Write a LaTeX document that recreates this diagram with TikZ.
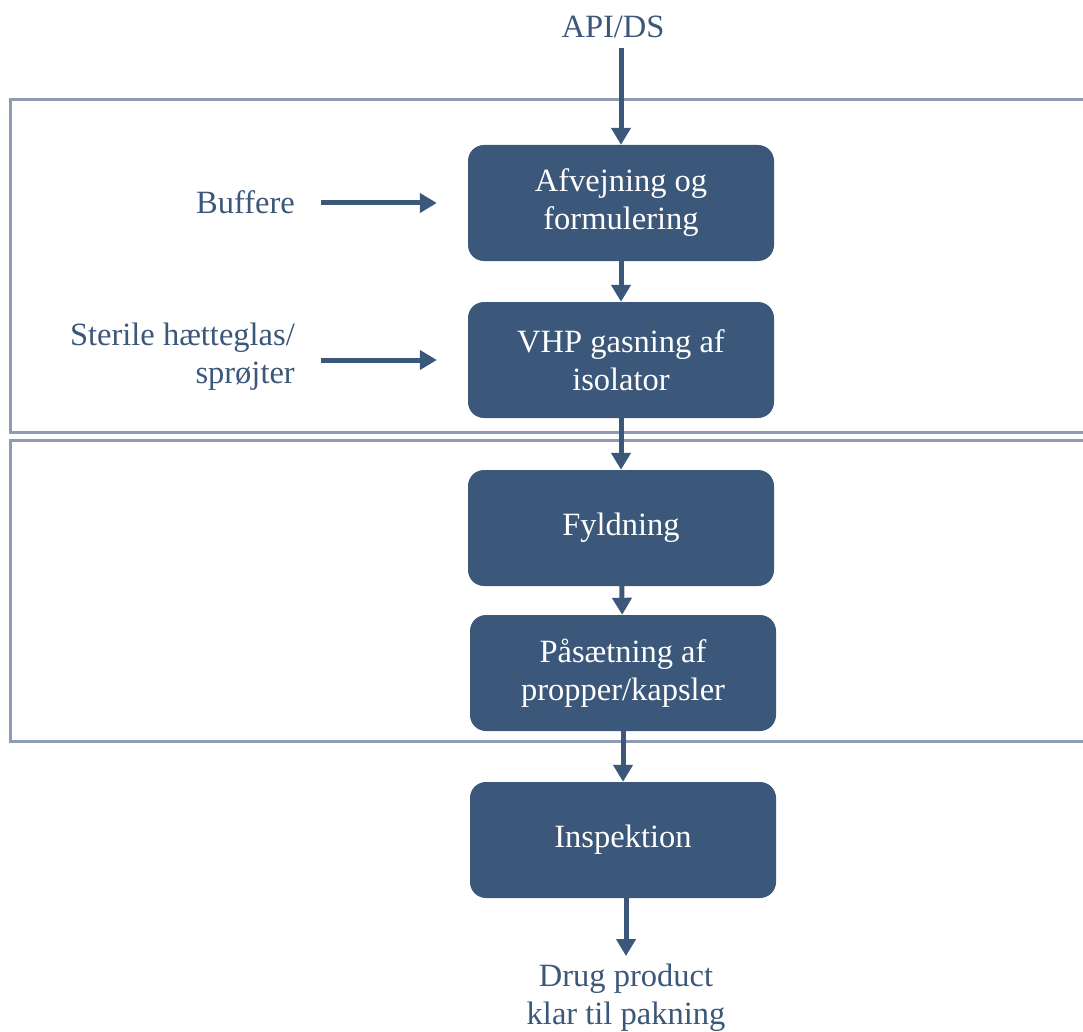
\documentclass[tikz,border=0pt]{standalone}
\usepackage{fontspec}
\setmainfont{Liberation Serif}
\usetikzlibrary{arrows.meta,positioning}
\definecolor{boxblue}{HTML}{3B5779}
\definecolor{framegray}{HTML}{8E9DB3}

\begin{document}
\begin{tikzpicture}[x=1pt, y=1pt,
   stage/.style={fill=boxblue, rounded corners=16pt, text=white,
                 align=center, minimum width=306pt, minimum height=116pt,
                 font=\fontsize{32.5}{38}\selectfont, inner sep=0pt},
   reg/.style={text=boxblue, font=\fontsize{32.5}{38}\selectfont, inner sep=2pt},
   flow/.style={draw=boxblue, line width=5pt,
                -{Triangle[width=19pt,length=17pt]}},
   zone/.style={draw=framegray, line width=3pt}]
\useasboundingbox (0,-1032) rectangle (1083,0);
% the two zones, open to the right
\draw[zone] (1095,-100) -| (10,-432) -- (1095,-432);
\draw[zone] (1095,-440) -| (10,-741) -- (1095,-741);
% process steps
\node[stage] (b1) at (621,-203) {Afvejning og\\formulering};
\node[stage] (b2) at (621,-360) {VHP gasning af\\isolator};
\node[stage] (b3) at (621,-528) {Fyldning};
\node[stage] (b4) at (623,-673) {Påsætning af\\propper/kapsler};
\node[stage] (b5) at (623,-840) {Inspektion};
% inputs and output
\node[reg] (api) at (613,-27) {API/DS};
\node[reg, align=right, anchor=east] (buf) at (297,-202) {Buffere};
\node[reg, align=right, anchor=east] (glas) at (297,-357) {Sterile hætteglas/\\sprøjter};
\node[reg, align=center] (out) at (626,-998) {Drug product\\klar til pakning};
\draw[flow, shorten <=8pt] (api.south -| b1) -- (b1);
\foreach \a/\b in {b1/b2,b2/b3,b3/b4,b4/b5}
  \draw[flow] (\a) -- (\b);
\draw[flow, shorten >=6pt] (b5.south -| out) -- (out);
\draw[flow, shorten <=24pt, shorten >=31pt] (buf.east |- b1) -- (b1);
\draw[flow, shorten <=24pt, shorten >=31pt] (glas.east |- b2) -- (b2);
\end{tikzpicture}
\end{document}
